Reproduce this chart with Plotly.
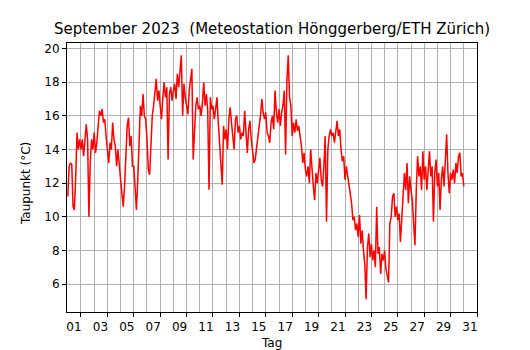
import plotly.graph_objects as go

# Time axis: day of month index, 0.1-day steps (0 = start of 1 Sept)
t_start = 0.0
t_step = 0.1

dewpoint_d00_05 = [
    11.2, 13.0, 13.2, 13.1, 10.6, 10.4, 12.4, 15.0, 14.0, 14.6,
    14.0, 14.6, 13.6, 14.8, 15.5, 14.6, 10.0, 13.2, 14.6, 14.0,
    15.0, 13.8, 14.4, 15.4, 16.3, 16.0, 16.4, 15.6, 15.8, 14.8,
    13.8, 13.2, 14.4, 14.0, 15.6, 14.6, 14.2, 13.0, 14.0, 12.8,
    12.2, 11.4, 10.6, 11.8, 14.0, 15.4, 15.9, 14.2, 14.8, 13.0,
]
dewpoint_d05_10 = [
    13.0, 11.6, 10.4, 12.2, 14.8, 16.6, 16.0, 17.3, 16.0, 15.8,
    14.6, 12.8, 12.5, 14.0, 16.0, 16.6, 17.5, 18.2, 16.9, 17.5,
    16.6, 15.8, 17.1, 18.0, 17.1, 17.7, 13.4, 17.3, 17.7, 16.9,
    17.5, 17.9, 17.0, 18.5, 17.7, 18.7, 19.6, 16.0, 17.9, 17.1,
    16.6, 16.1, 17.5, 18.3, 18.8, 13.4, 15.6, 16.6, 17.1, 16.4,
]
dewpoint_d10_15 = [
    16.6, 16.0, 16.8, 18.0, 16.6, 17.3, 16.3, 11.6, 17.1, 16.4,
    16.6, 15.8, 16.4, 17.1, 15.6, 14.2, 13.2, 11.9, 15.4, 14.6,
    15.2, 14.0, 15.8, 16.5, 15.6, 14.6, 14.0, 15.8, 16.0, 15.0,
    15.4, 14.6, 15.0, 14.8, 16.3, 15.0, 13.8, 15.2, 15.7, 14.6,
    14.0, 13.2, 13.4, 14.2, 15.0, 15.4, 16.0, 17.0, 16.2, 15.8,
]
dewpoint_d15_20 = [
    16.2, 15.0, 14.8, 14.4, 15.6, 16.0, 15.2, 17.5, 16.2, 15.6,
    16.4, 15.4, 16.2, 16.6, 17.5, 13.7, 18.1, 19.6, 17.1, 16.6,
    14.8, 15.6, 15.0, 15.8, 15.1, 15.4, 14.8, 14.2, 13.2, 13.8,
    12.8, 12.4, 13.0, 12.0, 14.0, 12.6, 11.8, 11.0, 12.6, 12.0,
    13.0, 13.5, 12.2, 11.8, 13.0, 14.8, 9.7, 14.0, 14.8, 15.2,
]
dewpoint_d20_25 = [
    14.8, 15.0, 14.4, 15.2, 15.7, 14.8, 15.2, 14.0, 13.3, 13.6,
    12.2, 13.0, 12.4, 11.8, 11.4, 10.8, 9.8, 10.0, 9.2, 9.6,
    8.8, 10.1, 8.4, 9.2, 8.0, 7.2, 5.1, 8.2, 9.0, 7.6,
    8.4, 7.4, 8.0, 7.0, 10.6, 7.8, 8.2, 6.6, 7.8, 7.4,
    8.0, 6.9, 6.5, 6.1, 9.6, 10.0, 11.2, 11.4, 10.0, 10.6,
]
dewpoint_d25_30 = [
    9.8, 10.2, 8.5, 10.0, 11.6, 12.6, 11.6, 13.2, 10.8, 12.4,
    11.6, 11.0, 9.6, 8.3, 11.6, 13.6, 12.4, 13.0, 11.6, 13.9,
    12.2, 13.0, 11.6, 12.8, 13.9, 12.4, 13.0, 9.7, 12.6, 13.4,
    11.8, 12.6, 10.4, 12.2, 13.0, 11.8, 13.6, 14.9, 12.6, 11.4,
    12.6, 12.2, 12.8, 12.0, 13.2, 12.6, 13.6, 13.8, 12.4, 12.6,
    11.8,
]

dewpoint = (dewpoint_d00_05 + dewpoint_d05_10 + dewpoint_d10_15
            + dewpoint_d15_20 + dewpoint_d20_25 + dewpoint_d25_30)
days = [t_start + i * t_step for i in range(len(dewpoint))]

x_tickvals = list(range(1, 32, 2))
x_ticktext = [f"{d:02d}" for d in x_tickvals]
y_tickvals = list(range(6, 21, 2))

title_text = "September 2023  (Meteostation Hönggerberg/ETH Zürich)"
ylabel = "Taupunkt (°C)"
xlabel = "Tag"

FONT = "DejaVu Sans"
GRID = "#b0b0b0"

# the page body has an 8px margin; size the figure so it fits the window
W, H = 522, 342

fig = go.Figure()
fig.add_trace(go.Scatter(x=days, y=dewpoint, mode="lines",
                         line=dict(color="#ff0000", width=1.5),
                         hoverinfo="skip", showlegend=False))

fig.update_layout(
    width=W, height=H,
    margin=dict(l=59, r=53, t=35, b=38, autoexpand=False),
    paper_bgcolor="white", plot_bgcolor="white",
    font=dict(family=FONT, size=12, color="black"),
    title=dict(text=title_text, x=264 / W, xanchor="center",
               y=1 - 21 / H, yanchor="middle", yref="container",
               font=dict(family=FONT, size=15, color="black")),
    xaxis=dict(
        range=[-0.06, 31.0], tickmode="array", tickvals=x_tickvals,
        ticktext=x_ticktext, ticks="outside", ticklen=4, tickcolor="black",
        ticklabelshift=-7, showgrid=True, gridcolor=GRID, gridwidth=1,
        showline=True, linecolor="black", linewidth=1, mirror=True,
        zeroline=False, automargin=False,
        minor=dict(tickmode="linear", tick0=0, dtick=1, showgrid=True,
                   gridcolor=GRID, gridwidth=1, ticks=""),
    ),
    yaxis=dict(
        range=[4.34, 20.33], tickmode="array", tickvals=y_tickvals,
        ticks="outside", ticklen=4, tickcolor="black",
        showgrid=True, gridcolor=GRID, gridwidth=1,
        showline=True, linecolor="black", linewidth=1, mirror=True,
        zeroline=False, automargin=False,
    ),
    annotations=[
        dict(text=ylabel, textangle=-90, xref="paper", yref="paper",
             x=(26 - 67) / 410.6, y=(312.3 - 184) / 269.6,
             xanchor="center", yanchor="middle", showarrow=False,
             font=dict(family=FONT, size=12, color="black")),
        dict(text=xlabel, xref="paper", yref="paper",
             x=(272 - 67) / 410.6, y=(312.3 - 343) / 269.6,
             xanchor="center", yanchor="middle", showarrow=False,
             font=dict(family=FONT, size=12, color="black")),
    ],
)

fig.write_html("out.html")
